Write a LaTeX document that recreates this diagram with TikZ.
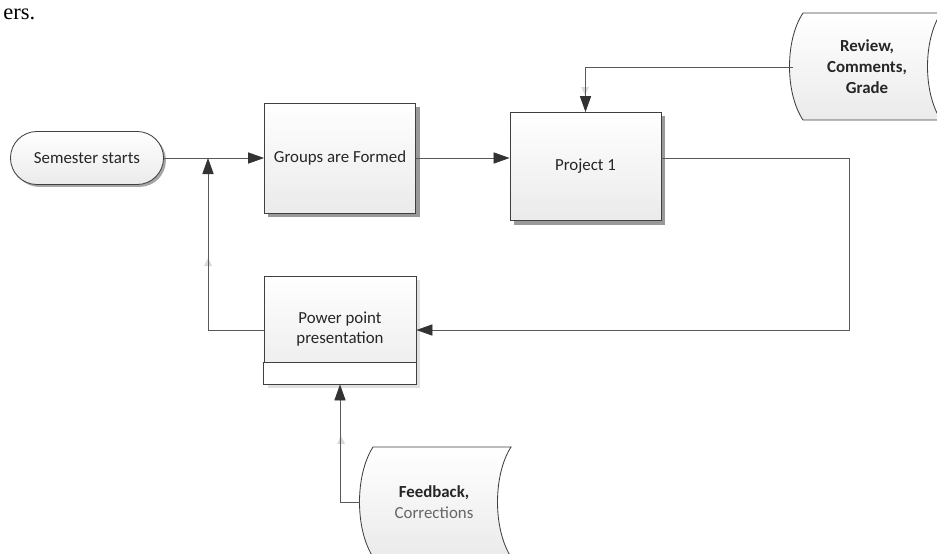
\documentclass[tikz,border=0pt]{standalone}
\usepackage{fontspec}
\setmainfont{Carlito}
\newfontfamily\timesfont{Liberation Serif}
\usetikzlibrary{arrows.meta, shadows, calc}

\begin{document}
\begin{tikzpicture}[x=0.025cm, y=-0.025cm,
    font=\fontsize{12}{14.5}\selectfont,
    line/.style={draw=black!65, line width=0.6pt},
    arr/.style={line, -{Triangle[length=4mm, width=2.8mm, color=black!80]}},
    ghost/.style={fill=black!15},
    box/.style={draw=black!75, line width=0.6pt, top color=white, bottom color=black!8,
        minimum width=3.775cm, minimum height=2.75cm, align=center, text=black!85},
    boxshadow/.style={drop shadow={shadow xshift=0.1cm, shadow yshift=-0.1cm, fill=black!40, opacity=1}},
    stored/.style={draw=black!75, line width=0.6pt, top color=white, bottom color=black!8},
    label/.style={align=center, text=black!85, minimum width=3.7cm, minimum height=2.6cm}]
    \useasboundingbox (0,0) rectangle (937,553);
    \clip (0,0) rectangle (937,553);

    \node[font=\timesfont\fontsize{16}{18}\selectfont, anchor=base west, inner sep=0pt] (frag) at (3,19) {ers.};

    \node[box, rounded corners=0.66cm, minimum width=3.825cm, minimum height=1.325cm,
        drop shadow={shadow xshift=0.06cm, shadow yshift=-0.06cm, fill=black!35, opacity=1}] (sem) at (87,158) {Semester starts};
    \node[box, boxshadow] (grp) at (340,158) {Groups are Formed};
    \node[box, boxshadow, minimum height=2.7cm] (prj) at (585.5,166.5) {Project 1};
    \node[box, minimum width=3.8cm, minimum height=2.7cm,
        drop shadow={shadow xshift=0.1cm, shadow yshift=-0.1cm, fill=black!12, opacity=1}] (pp) at (340,330) {};
    \draw[line, draw=black!75, fill=white] (pp.south west) rectangle ($(pp.south east)+(0,-22)$);
    \node[align=center, text=black!85] (pptext) at (340,329) {Power point\\presentation};

    \path[stored] (803,13) -- (941,13) .. controls (923,40) and (923,93) .. (941,120)
        -- (803,120) .. controls (785,93) and (785,40) .. (803,13) -- cycle;
    \node[label, font=\fontsize{12}{15}\selectfont\bfseries] (rev) at (867,67) {Review,\\Comments,\\Grade};

    \path[stored] (373,447) -- (511,447) .. controls (493,475) and (493,529) .. (511,557)
        -- (373,557) .. controls (355,529) and (355,475) .. (373,447) -- cycle;
    \node[label] (fb) at (434,502) {\textbf{Feedback,}\\\textcolor{black!60}{Corrections}};

    \coordinate (jn) at (208,158);
    \coordinate (rt) at (849,158);

    \fill[ghost] (208,258) -- (204,266) -- (212,266) -- cycle;
    \fill[ghost] (581,87) -- (589,87) -- (585,95) -- cycle;
    \fill[ghost] (341,436) -- (337,444) -- (345,444) -- cycle;

    \draw[arr] (sem.east) -- (grp.west);
    \draw[arr] (grp.east) -- (grp.east -| prj.west);
    \draw[arr] (rt -| prj.east) -- (rt) |- (pp.east);
    \draw[arr] (rev.west) -| (prj.north);
    \draw[arr] (pp.west) -| (jn);
    \draw[arr] (fb.west) -| (pp.south);
\end{tikzpicture}
\end{document}
